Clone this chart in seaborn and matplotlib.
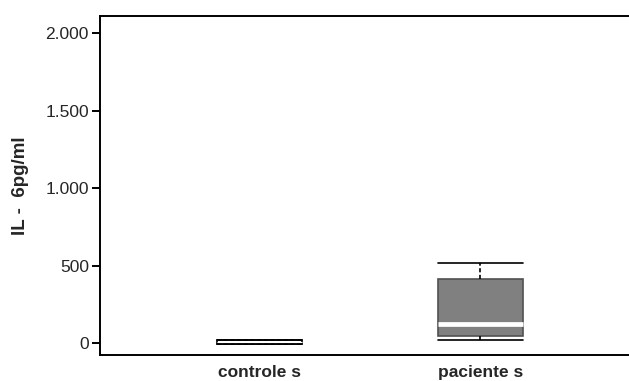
import pandas as pd
import seaborn as sns
import matplotlib.pyplot as plt
from matplotlib.ticker import FuncFormatter

grupos = ["controle s", "paciente s"]
controles = [-4, -4, 6, 18, 18]
pacientes = [19, 45, 125, 413, 516]
yticks = [0, 500, 1000, 1500, 2000]

df = pd.DataFrame(
    {
        "grupo": [grupos[0]] * len(controles) + [grupos[1]] * len(pacientes),
        "valor": controles + pacientes,
    }
)

sns.set_theme(style="white")
plt.rcParams["font.family"] = ["Liberation Sans", "DejaVu Sans"]

fig = plt.figure(figsize=(6.29, 3.81), dpi=100)
ax = fig.add_axes([100 / 629, 26 / 381, 1.02 - 100 / 629, 339 / 381])

box_w = 0.385
sns.boxplot(
    data=df,
    x="grupo",
    y="valor",
    hue="grupo",
    palette={grupos[0]: "white", grupos[1]: "#808080"},
    linecolor="black",
    linewidth=1.2,
    whis=(0, 100),
    width=box_w,
    showfliers=False,
    medianprops={"color": "white", "linewidth": 3.4},
    whiskerprops={"linestyle": (0, (2.5, 1.5))},
    legend=False,
    ax=ax,
)

# grey edge on the filled box, caps as wide as the box
ax.patches[1].set_edgecolor("#505050")
for ln in ax.lines:
    xd, yd = ln.get_xdata(), ln.get_ydata()
    if len(xd) == 2 and yd[0] == yd[1] and ln.get_color() != "white":
        c = (xd[0] + xd[1]) / 2
        ln.set_xdata([c - box_w / 2, c + box_w / 2])
    if ln.get_color() == "white":
        ln.set_zorder(5)
        if (xd[0] + xd[1]) / 2 < 0.5:
            ln.set_linewidth(0.8)

ax.set_ylim(-77, 2110)
ax.set_xlim(-0.72, 1.73)
ax.set_yticks(yticks)
ax.yaxis.set_major_formatter(FuncFormatter(lambda v, _: f"{int(v):,}".replace(",", ".")))
ax.tick_params(axis="y", left=True, length=6, width=1.4, labelsize=12.5, pad=2, color="black")
ax.tick_params(axis="x", bottom=False, labelsize=12.5, pad=1)
for lab in ax.get_xticklabels():
    lab.set_fontweight("bold")

ax.set_xlabel("")
ax.set_ylabel("IL -  6pg/ml", fontsize=13.5, fontweight="bold", labelpad=12)

for side in ["left", "top", "bottom"]:
    ax.spines[side].set_color("black")
    ax.spines[side].set_linewidth(1.4)
ax.spines["right"].set_visible(False)

plt.savefig("out.png", dpi=100)
